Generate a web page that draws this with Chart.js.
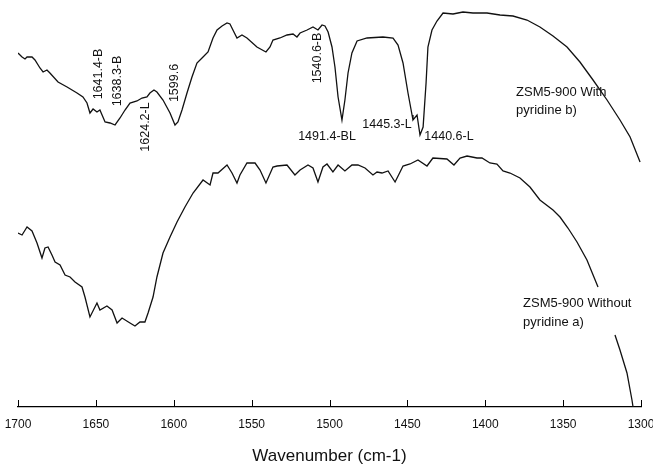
<!DOCTYPE html>
<html>
<head>
<meta charset="utf-8">
<script src="https://cdn.jsdelivr.net/npm/chart.js@4.4.1/dist/chart.umd.min.js"></script>
<style>
  html, body { margin: 0; padding: 0; background: #fff; }
  #wrap { width: 653px; height: 471px; position: relative; }
</style>
</head>
<body>
<div id="wrap"><canvas id="ftir"></canvas></div>
<script>
// ZSM5-900 with pyridine (b) - arbitrary transmittance units
const withWave = [1700, 1697.4, 1695.5, 1694.2, 1691.0, 1689.1, 1685.9, 1683.9, 1681.4, 1679.5,
  1674.3, 1668.5, 1662.1, 1658.3, 1655.7, 1653.8, 1651.8, 1649.3, 1647.4, 1644.1,
  1640.9, 1637.7, 1634.5, 1631.3, 1628.1, 1623.6, 1620.4, 1617.2, 1615.3, 1612.7,
  1610.8, 1606.9, 1602.4, 1599.2, 1597.3, 1594.7, 1591.5, 1588.3, 1585.1, 1581.2,
  1578.0, 1574.8, 1572.2, 1569.0, 1565.8, 1563.9, 1562.0, 1559.4, 1556.2, 1553.0,
  1546.6, 1540.8, 1538.2, 1536.3, 1531.8, 1527.3, 1523.4, 1520.9, 1518.9, 1514.4,
  1510.6, 1507.4, 1504.8, 1502.9, 1500.9, 1498.4, 1496.5, 1494.5, 1492.0, 1490.1,
  1488.1, 1485.6, 1482.3, 1475.9, 1465.7, 1459.2, 1456.0, 1452.8, 1449.6, 1447.0,
  1446.4, 1443.8, 1441.9, 1439.9, 1438.0, 1436.8, 1434.2, 1431.0, 1427.1, 1420.7,
  1414.3, 1407.9, 1398.9, 1390.5, 1382.2, 1373.2, 1364.9, 1356.5, 1347.5, 1339.2,
  1330.8, 1321.8, 1313.5, 1307.0, 1300.6];
const withValue = [88.5, 87.5, 87, 87.5, 87.5, 86.75, 84.75, 83.75, 84.25, 83.5,
  81.25, 80, 78.5, 77.5, 76, 73.5, 74.5, 73.75, 74.25, 71.25,
  71, 70.5, 72.25, 74.25, 76, 76.5, 77.25, 77.5, 78.5, 79.25,
  78.75, 76.75, 73.5, 70.5, 71.25, 74.25, 78.5, 82.5, 86, 87.5,
  88.75, 92.25, 94.25, 95.25, 96, 95.75, 94.25, 92.25, 93, 92.25,
  90, 88.75, 90, 91.75, 92.25, 93, 93.25, 92.5, 93.5, 94.25,
  95, 94.25, 95.5, 95.25, 93.75, 90, 85, 77.5, 71.75, 76.75,
  83.5, 88.5, 91.5, 92.25, 92.5, 92.25, 90.5, 86, 78.5, 73,
  71.75, 73, 68, 70, 81, 90, 94.25, 96.5, 98.5, 98.25,
  98.75, 98.5, 98.5, 98, 97.75, 96.75, 95, 92.75, 90, 86.25,
  81.75, 76.75, 71.75, 67.5, 61.25];

// ZSM5-900 without pyridine (a); null = break under the label
const withoutWave = [1700, 1697.4, 1694.2, 1691.0, 1687.8, 1684.6, 1682.7, 1680.7, 1678.2, 1676.2,
  1673.0, 1669.8, 1666.6, 1663.4, 1658.9, 1657.0, 1653.8, 1649.3, 1647.4, 1642.9,
  1639.6, 1636.4, 1633.2, 1628.1, 1624.9, 1621.7, 1618.5, 1616.5, 1613.3, 1610.8,
  1606.9, 1602.4, 1597.9, 1592.8, 1587.6, 1581.2, 1576.7, 1574.8, 1571.6, 1565.8,
  1562.6, 1559.4, 1557.5, 1553.0, 1547.8, 1544.6, 1540.8, 1536.3, 1533.7, 1527.3,
  1522.2, 1518.9, 1513.8, 1510.6, 1507.4, 1504.2, 1501.6, 1497.8, 1494.5, 1490.1,
  1485.6, 1481.7, 1477.2, 1472.1, 1469.5, 1466.3, 1462.4, 1457.9, 1454.7, 1452.8,
  1448.3, 1443.2, 1437.4, 1433.6, 1424.6, 1420.1, 1416.2, 1411.7, 1405.3, 1402.1,
  1397.0, 1392.5, 1388.6, 1384.1, 1377.7, 1371.3, 1364.9, 1356.5, 1352.0, 1346.9,
  1341.1, 1334.7, 1327.6, 1322.0, 1316.7, 1313.5, 1309.0, 1305.8, 1305.1];
const withoutValue = [43.5, 43, 45, 44, 41, 37.25, 39.75, 40, 38, 36.25,
  35.5, 33, 32.5, 31.25, 30, 27.5, 22.5, 26, 24.25, 25.25,
  24.25, 21, 22.25, 21, 20.25, 21.25, 21.25, 23.5, 27.5, 32.5,
  38.5, 42.5, 46.25, 50, 53.5, 56.75, 55.5, 58.5, 58.5, 60.5,
  58.5, 56, 58, 61, 61, 59.25, 56, 60, 60.25, 60.5,
  58, 59.25, 60.5, 59.75, 56.25, 60, 60.75, 58.75, 60.5, 59,
  60.5, 60.5, 59.75, 58, 58.75, 58.5, 59, 56.25, 58.75, 60.25,
  60.75, 61.75, 60.25, 62.25, 62, 60.5, 62.25, 62.75, 62.25, 62.25,
  61, 60.75, 59, 58.5, 57.25, 55, 51.75, 49.25, 47.5, 44.75,
  41.25, 36.75, 30, null, 18, 14.25, 8.5, 1.75, 0];

const xTicks = [1700, 1650, 1600, 1550, 1500, 1450, 1400, 1350, 1300];

// peak / curve labels: [text, wavenumber, value, rotated, align]
const peakLabels = [
  ['1641.4-B', 1648.0, 83.25, true, 'center'],
  ['1638.3-B', 1636.4, 81.5, true, 'center'],
  ['1624.2-L', 1617.8, 70, true, 'center'],
  ['1599.6', 1599.8, 81, true, 'center'],
  ['1540.6-B', 1507.4, 87.25, true, 'center'],
  ['1491.4-BL', 1501.6, 67.5, false, 'center'],
  ['1445.3-L', 1463.1, 70.5, false, 'center'],
  ['1440.6-L', 1423.3, 67.5, false, 'center'],
  ['ZSM5-900 With', 1380.2, 78.75, false, 'left'],
  ['pyridine b)', 1380.2, 74.25, false, 'left'],
  ['ZSM5-900 Without', 1375.7, 26, false, 'left'],
  ['pyridine a)', 1375.7, 21.25, false, 'left']
];

const FONT = "'Liberation Sans', Arial, sans-serif";

function toPoints(xs, ys) {
  return xs.map((x, i) => ({ x: x, y: ys[i] }));
}

const innerTicks = {
  id: 'innerTicks',
  afterDraw(chart) {
    const ctx = chart.ctx;
    const sx = chart.scales.x;
    ctx.save();
    ctx.strokeStyle = '#000';
    ctx.lineWidth = 1;
    xTicks.forEach(t => {
      const px = Math.round(sx.getPixelForValue(t)) + 0.5;
      ctx.beginPath();
      ctx.moveTo(px, sx.top);
      ctx.lineTo(px, sx.top - 7);
      ctx.stroke();
    });
    ctx.restore();
  }
};

const peakText = {
  id: 'peakText',
  afterDraw(chart) {
    const ctx = chart.ctx;
    const sx = chart.scales.x, sy = chart.scales.y;
    ctx.save();
    ctx.fillStyle = '#111';
    ctx.textBaseline = 'middle';
    peakLabels.forEach(([txt, w, v, rot, align]) => {
      const px = sx.getPixelForValue(w);
      const py = sy.getPixelForValue(v);
      ctx.save();
      ctx.translate(px, py);
      if (rot) ctx.rotate(-Math.PI / 2);
      ctx.font = (align === 'left' ? '13px ' : '12.5px ') + FONT;
      ctx.textAlign = align;
      ctx.fillText(txt, 0, 0);
      ctx.restore();
    });
    ctx.restore();
  }
};

const ctxFtir = document.getElementById('ftir').getContext('2d');
const myChartFtir = new Chart(ctxFtir, {
  type: 'line',
  data: {
    datasets: [{
      data: toPoints(withWave, withValue),
      borderColor: '#111',
      borderWidth: 1.3,
      pointRadius: 0,
      fill: false,
      tension: 0
    }, {
      data: toPoints(withoutWave, withoutValue),
      borderColor: '#111',
      borderWidth: 1.3,
      pointRadius: 0,
      fill: false,
      tension: 0,
      spanGaps: false
    }]
  },
  options: {
    responsive: true,
    maintainAspectRatio: false,
    animation: false,
    layout: { padding: { left: 18, right: 12, top: 7, bottom: 0 } },
    scales: {
      x: {
        type: 'linear',
        min: 1300,
        max: 1700,
        reverse: true,
        afterFit: (scale) => {
          scale.height = 64;
          scale.paddingLeft = 0;
          scale.paddingRight = 0;
        },
        afterBuildTicks: (scale) => { scale.ticks = xTicks.map(v => ({ value: v })); },
        grid: { display: true, drawOnChartArea: false, drawTicks: false },
        border: { display: true, color: '#000', width: 1.3 },
        ticks: {
          padding: 10,
          maxRotation: 0,
          autoSkip: false,
          color: '#111',
          font: { family: FONT, size: 12 },
          callback: (v) => String(v)
        },
        title: {
          display: true,
          text: 'Wavenumber (cm-1)',
          color: '#111',
          padding: { top: 4, bottom: 4 },
          font: { family: FONT, size: 17 }
        }
      },
      y: {
        display: false,
        min: 0,
        max: 100
      }
    },
    plugins: {
      legend: { display: false },
      tooltip: { enabled: false }
    }
  },
  plugins: [innerTicks, peakText]
});
</script>
</body>
</html>
